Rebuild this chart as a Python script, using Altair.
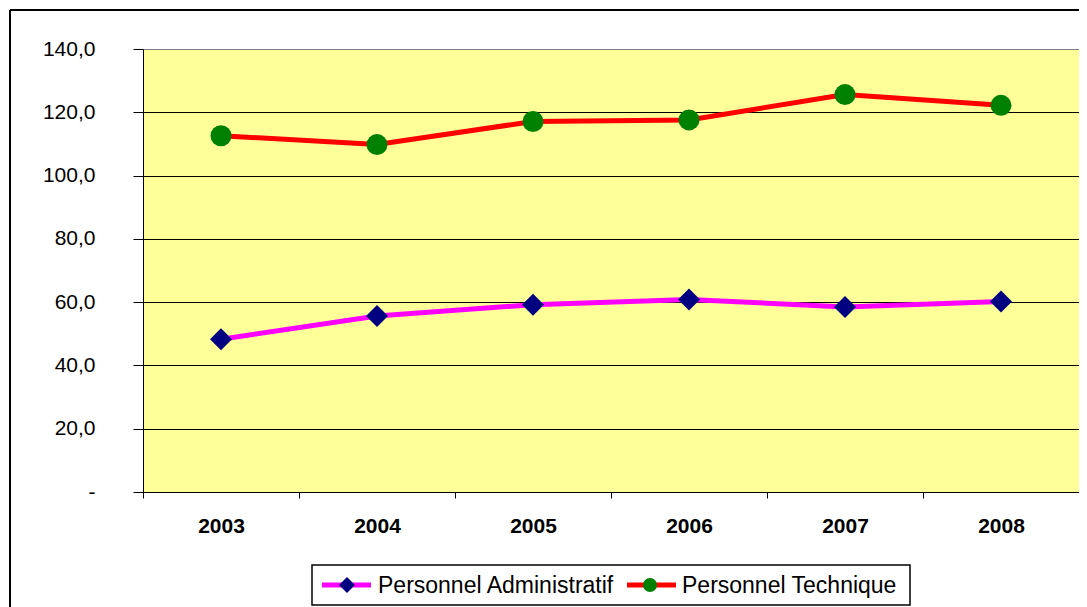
import altair as alt
import pandas as pd

years = ["2003", "2004", "2005", "2006", "2007", "2008"]
series_names = ["Personnel Administratif", "Personnel Technique"]
admin = [48.3, 55.6, 59.2, 60.8, 58.5, 60.2]
tech = [112.6, 109.8, 117.1, 117.6, 125.6, 122.2]
y_ticks = [0, 20, 40, 60, 80, 100, 120, 140]

line_colors = ["#FF00FF", "#FF0000"]
marker_colors = ["#000080", "#008000"]
marker_shapes = ["diamond", "circle"]

rows = []
for y, a, t in zip(years, admin, tech):
    rows.append({"year": y, "series": series_names[0], "value": a})
    rows.append({"year": y, "series": series_names[1], "value": t})
df = pd.DataFrame(rows)

FONT = "Liberation Sans"

x_enc = alt.X(
    "year:N",
    sort=years,
    scale=alt.Scale(type="band", paddingInner=0, paddingOuter=0),
    axis=alt.Axis(
        title=None, labelAngle=0, labelFont=FONT, labelFontSize=21,
        labelFontWeight="bold", labelColor="black", labelPadding=17,
        tickSize=6, tickColor="black", tickBand="extent",
        domainColor="black", domainWidth=1, grid=False,
    ),
)
y_enc = alt.Y(
    "value:Q",
    scale=alt.Scale(domain=[0, 140], nice=False),
    axis=alt.Axis(
        title=None, values=y_ticks,
        labelExpr="datum.value == 0 ? '-\u00a0\u00a0\u00a0\u00a0' : replace(format(datum.value, '.1f'), '.', ',')",
        labelFont=FONT, labelFontSize=21, labelColor="black", labelPadding=38,
        tickSize=10, tickColor="black", domainColor="black", domainWidth=1,
        grid=True,
        gridColor={"condition": {"test": "datum.value == 140", "value": "#808080"}, "value": "black"},
        gridWidth=1,
    ),
)

base = alt.Chart(df).encode(x=x_enc, y=y_enc)

layers = []
for i, name in enumerate(series_names):
    sub = base.transform_filter(alt.datum.series == name)
    layers.append(sub.mark_line(color=line_colors[i], strokeWidth=5))
for i, name in enumerate(series_names):
    sub = base.transform_filter(alt.datum.series == name)
    size = 484 if marker_shapes[i] == "diamond" else 441
    layers.append(sub.mark_point(shape=marker_shapes[i], filled=True, fill=marker_colors[i],
                                 color=marker_colors[i], opacity=1, size=size, strokeWidth=0))

one = alt.Chart(pd.DataFrame({"k": [0]}))

# outer chart frame
frame_top = one.mark_rule(color="black", strokeWidth=2).encode(
    x=alt.value(-133), x2=alt.value(1000), y=alt.value(-39))
frame_left = one.mark_rule(color="black", strokeWidth=2).encode(
    x=alt.value(-133), y=alt.value(-39), y2=alt.value(700))

# legend
leg_box = one.mark_rect(fill="white", stroke="black", strokeWidth=1.5).encode(
    x=alt.value(169), x2=alt.value(767), y=alt.value(516), y2=alt.value(556))
leg_layers = [leg_box]
leg_line_x = [(179, 228, 204, 235), (484, 533, 507, 539)]
for i, name in enumerate(series_names):
    x1, x2, xm, xt = leg_line_x[i]
    leg_layers.append(one.mark_rule(color=line_colors[i], strokeWidth=5).encode(
        x=alt.value(x1), x2=alt.value(x2), y=alt.value(536)))
    leg_layers.append(one.mark_point(shape=marker_shapes[i], filled=True, fill=marker_colors[i],
                                     color=marker_colors[i], opacity=1,
                                     size=256 if marker_shapes[i] == "diamond" else 196,
                                     strokeWidth=0).encode(
        x=alt.value(xm), y=alt.value(536)))
    leg_layers.append(one.mark_text(align="left", baseline="middle", font=FONT, fontSize=23,
                                    color="black").encode(
        x=alt.value(xt), y=alt.value(537), text=alt.value(name)))

chart = alt.layer(*layers, frame_top, frame_left, *leg_layers).properties(
    width=936, height=443,
    padding={"left": 135, "top": 41, "right": 0, "bottom": 115},
    autosize=alt.AutoSizeParams(type="none"),
    background="white",
).configure_view(fill="#FFFF99", stroke="#808080", strokeWidth=1)

chart.save("out.html", embed_options={"renderer": "svg", "actions": False})
